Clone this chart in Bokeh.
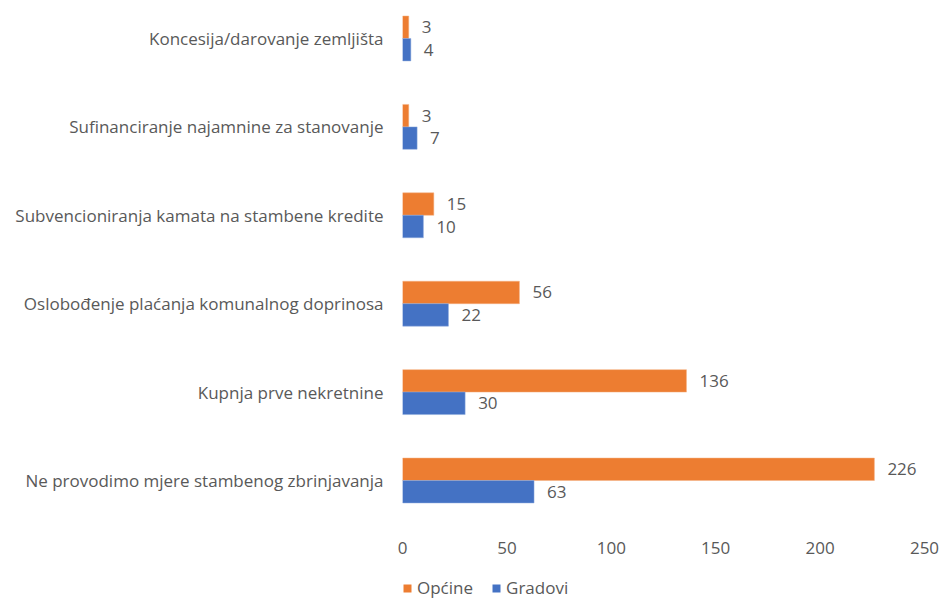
from bokeh.plotting import figure
from bokeh.layouts import column
from bokeh.models import ColumnDataSource, Range1d, Legend, LegendItem, FixedTicker, LabelSet
from bokeh.core.properties import value
from bokeh.embed import file_html
from bokeh.resources import INLINE

categories = [
    "Koncesija/darovanje zemljišta",
    "Sufinanciranje najamnine za stanovanje",
    "Subvencioniranja kamata na stambene kredite",
    "Oslobođenje plaćanja komunalnog doprinosa",
    "Kupnja prve nekretnine",
    "Ne provodimo mjere stambenog zbrinjavanja",
]
opcine = [3, 3, 15, 56, 136, 226]
gradovi = [4, 7, 10, 22, 30, 63]
x_ticks = [0, 50, 100, 150, 200, 250]
series_names = ["Općine", "Gradovi"]

ORANGE = "#ED7D31"
BLUE = "#4472C4"
GREY = "#595959"
FONT = "Open Sans"
FS = "17px"

idx = list(range(len(categories)))
bar_h = 0.254
src_o = ColumnDataSource(dict(y=[i - bar_h / 2 for i in idx], v=opcine, t=[str(v) for v in opcine]))
src_g = ColumnDataSource(dict(y=[i + bar_h / 2 for i in idx], v=gradovi, t=[str(v) for v in gradovi]))

p = figure(width=942, height=563, output_backend="svg", toolbar_location=None,
           x_range=Range1d(0, 250), y_range=Range1d(5.509, -0.339))
p.min_border_left = 401
p.min_border_right = 18
p.min_border_top = 8
p.min_border_bottom = 38
p.outline_line_color = None
p.background_fill_color = "white"
p.border_fill_color = "white"
p.xgrid.visible = False
p.ygrid.visible = False

r_o = p.hbar(y="y", right="v", left=0, height=bar_h, source=src_o, fill_color=ORANGE, line_color="#F4B183", line_width=0.5)
r_g = p.hbar(y="y", right="v", left=0, height=bar_h, source=src_g, fill_color=BLUE, line_color="#8FAADC", line_width=0.5)

for src in (src_o, src_g):
    p.add_layout(LabelSet(x="v", y="y", text="t", source=src, x_offset=13,
                          text_align="left", text_baseline="middle",
                          text_font=value(FONT), text_font_size=value(FS), text_color=GREY))

p.xaxis.ticker = FixedTicker(ticks=x_ticks)
p.xaxis.axis_line_color = None
p.xaxis.major_tick_line_color = None
p.xaxis.minor_tick_line_color = None
p.xaxis.major_label_text_font = FONT
p.xaxis.major_label_text_font_size = FS
p.xaxis.major_label_text_color = GREY
p.xaxis.major_label_standoff = 10

p.yaxis.ticker = FixedTicker(ticks=idx)
p.yaxis.major_label_overrides = {i: c for i, c in zip(idx, categories)}
p.yaxis.axis_line_color = None
p.yaxis.major_tick_line_color = None
p.yaxis.minor_tick_line_color = None
p.yaxis.major_label_text_font = FONT
p.yaxis.major_label_text_font_size = FS
p.yaxis.major_label_text_color = GREY
p.yaxis.major_label_standoff = 13

# legend strip below the chart (its swatch renderers sit outside the visible range)
lg = figure(width=942, height=36, output_backend="svg", toolbar_location=None,
            x_range=Range1d(0, 1), y_range=Range1d(0, 1))
lg.min_border_left = 402
lg.min_border_right = 0
lg.min_border_top = 0
lg.min_border_bottom = 0
lg.outline_line_color = None
lg.background_fill_color = "white"
lg.border_fill_color = "white"
lg.xaxis.visible = False
lg.yaxis.visible = False
lg.xgrid.visible = False
lg.ygrid.visible = False
lo = lg.hbar(y=[-10], right=[1], left=0, height=0.1, fill_color=ORANGE, line_color=None)
lb = lg.hbar(y=[-10], right=[1], left=0, height=0.1, fill_color=BLUE, line_color=None)
legend = Legend(items=[LegendItem(label=series_names[0], renderers=[lo]),
                       LegendItem(label=series_names[1], renderers=[lb])],
                orientation="horizontal", location="bottom_left",
                label_text_font=FONT, label_text_font_size=FS, label_text_color=GREY,
                glyph_width=10, glyph_height=10, label_standoff=5, spacing=18,
                border_line_color=None, background_fill_alpha=0, padding=4, margin=0)
lg.add_layout(legend, "center")

layout = column(p, lg, spacing=0)
open("out.html", "w").write(file_html(layout, INLINE))
